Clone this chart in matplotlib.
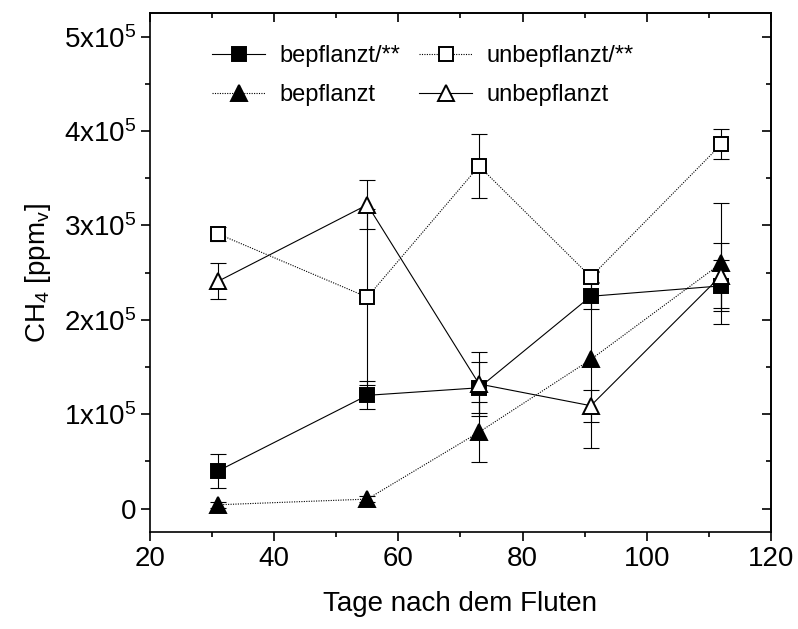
import matplotlib
matplotlib.use("Agg")
import matplotlib.pyplot as plt
from matplotlib.ticker import MultipleLocator, FixedLocator, FixedFormatter
import numpy as np

plt.rcParams.update({
    "font.family": ["Liberation Sans", "DejaVu Sans"],
    "mathtext.fontset": "custom",
    "mathtext.rm": "Liberation Sans",
    "mathtext.it": "Liberation Sans",
    "axes.linewidth": 1.2,
})

# Tage nach dem Fluten
days = [31, 55, 73, 91, 112]

# CH4 in ppmv, with error bars
bepfl_s = [40000, 120000, 128000, 225000, 236000]
bepfl_s_err = [18000, 15000, 27000, 14000, 27000]

unbepfl_s = [291000, 224000, 363000, 245500, 386000]
unbepfl_s_err = [7000, 93000, 34000, 5000, 16000]

bepfl = [4000, 10000, 81000, 158000, 260000]
bepfl_err = [3000, 3000, 32000, 94000, 64000]

unbepfl = [241000, 322000, 132000, 109000, 247000]
unbepfl_err = [19000, 26000, 34000, 17000, 34000]

yticks = [0, 100000, 200000, 300000, 400000, 500000]
ytick_labels = ["0", "1x10$^5$", "2x10$^5$", "3x10$^5$", "4x10$^5$", "5x10$^5$"]

fig = plt.figure(figsize=(7.98, 6.29), dpi=100)
ax = fig.add_axes([0.188, 0.154, 0.778, 0.825])

dotted = (0, (1, 1.2))
series = [
    (bepfl_s, bepfl_s_err, "s", "black", "-", "bepflanzt/**", 10),
    (bepfl, bepfl_err, "^", "black", dotted, "bepflanzt", 12),
    (unbepfl_s, unbepfl_s_err, "s", "white", dotted, "unbepflanzt/**", 10),
    (unbepfl, unbepfl_err, "^", "white", "-", "unbepflanzt", 12),
]

# error bars first, markers on top
for vals, err, mk, fc, ls, lab, ms in series:
    ax.errorbar(days, vals, yerr=err, fmt="none", ecolor="black",
                elinewidth=0.8, capsize=6, capthick=0.8, zorder=2)

handles = []
for vals, err, mk, fc, ls, lab, ms in series:
    h, = ax.plot(days, vals, color="black", linestyle=ls, linewidth=0.8,
                 marker=mk, markersize=ms, markerfacecolor=fc,
                 markeredgecolor="black", markeredgewidth=1.4,
                 label=lab, zorder=3)
    handles.append(h)

ax.set_xlim(20, 120)
ax.set_ylim(-25000, 525000)
ax.xaxis.set_major_locator(MultipleLocator(20))
ax.xaxis.set_minor_locator(MultipleLocator(10))
ax.yaxis.set_major_locator(FixedLocator(yticks))
ax.yaxis.set_major_formatter(FixedFormatter(ytick_labels))
ax.yaxis.set_minor_locator(MultipleLocator(50000))
ax.tick_params(which="both", direction="out", labelsize=20, width=1.2)
ax.tick_params(which="major", length=6.5)
ax.tick_params(which="minor", length=3.6)

# top / right axes with inward ticks, no labels
secx = ax.secondary_xaxis("top")
secx.xaxis.set_major_locator(MultipleLocator(20))
secx.xaxis.set_minor_locator(MultipleLocator(10))
secx.tick_params(which="both", direction="in", labeltop=False, width=1.2)
secx.tick_params(which="major", length=6.5)
secx.tick_params(which="minor", length=3.6)
secy = ax.secondary_yaxis("right")
secy.yaxis.set_major_locator(FixedLocator(yticks))
secy.yaxis.set_minor_locator(MultipleLocator(50000))
secy.tick_params(which="both", direction="in", labelright=False, width=1.2)
secy.tick_params(which="major", length=6.5)
secy.tick_params(which="minor", length=3.6)

ax.set_xlabel("Tage nach dem Fluten", fontsize=20, labelpad=14)
ax.set_ylabel("CH$_4$ [ppm$_v$]", fontsize=20, labelpad=8)

ax.legend(handles=handles, ncol=2, frameon=False, fontsize=17,
          loc="upper left", bbox_to_anchor=(0.1, 0.938),
          borderaxespad=0, borderpad=0, handlelength=2.25,
          handletextpad=0.6, columnspacing=0.8, labelspacing=0.7)

fig.savefig("out.png", dpi=100)
